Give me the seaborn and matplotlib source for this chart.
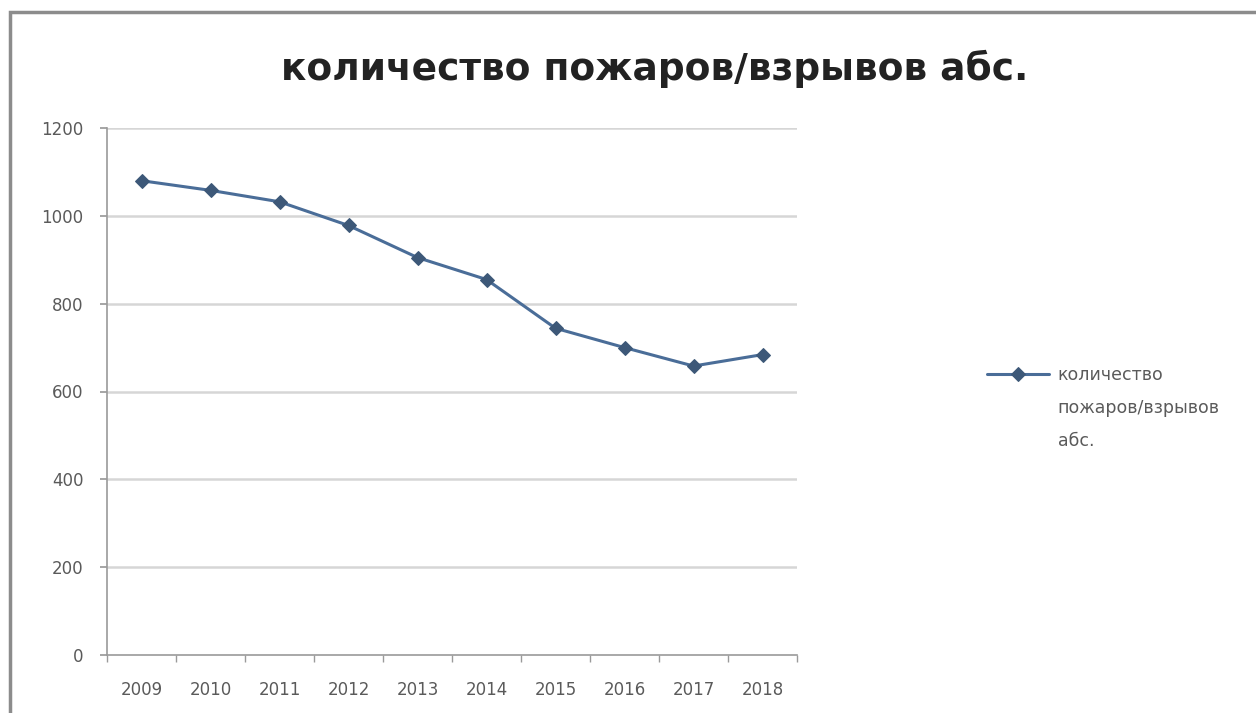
import matplotlib
matplotlib.use("Agg")
import matplotlib.pyplot as plt
import seaborn as sns
import pandas as pd
from matplotlib.patches import Rectangle

# Annual counts of fires/explosions (absolute numbers)
years = ["2009", "2010", "2011", "2012", "2013", "2014", "2015", "2016", "2017", "2018"]
counts = [1080, 1058, 1032, 978, 905, 855, 744, 700, 658, 684]
y_ticks = [0, 200, 400, 600, 800, 1000, 1200]
series_lines = ["количество", "пожаров/взрывов", "абс."]
title_text = "количество пожаров/взрывов абс."

df = pd.DataFrame({"год": years, "значение": counts, "ряд": " ".join(series_lines)})

sns.set_theme(style="white")
plt.rcParams["font.family"] = ["DejaVu Sans"]

W, H = 1256, 713
fig = plt.figure(figsize=(W / 100, H / 100), dpi=100)
ax = fig.add_axes([107 / W, 1 - 655 / H, 690 / W, (655 - 128) / H])

line_color = "#4a6d98"
sns.lineplot(data=df, x="год", y="значение", hue="ряд", palette=[line_color],
             marker="D", markersize=7, markerfacecolor="#3d5878",
             markeredgecolor="#3d5878", linewidth=2.2, ax=ax, sort=False)

ax.set_xlim(-0.5, len(years) - 0.5)
ax.set_ylim(0, 1200)
ax.set_yticks(y_ticks)
ax.set_yticklabels([str(v) for v in y_ticks])
ax.set_xlabel("")
ax.set_ylabel("")

# Horizontal gridlines
for v in y_ticks[1:]:
    ax.axhline(v, color="#d6d6d6", linewidth=1.8, zorder=0)

for s in ["top", "right"]:
    ax.spines[s].set_visible(False)
for s in ["left", "bottom"]:
    ax.spines[s].set_color("#9a9a9a")
    ax.spines[s].set_linewidth(1.2)

tick_color = "#5a5a5a"
ax.tick_params(axis="y", which="major", left=True, length=5, color="#9a9a9a",
               labelsize=12, labelcolor=tick_color, pad=12)
ax.tick_params(axis="x", which="major", bottom=False, labelsize=12,
               labelcolor=tick_color, pad=13)
# Category axis: tick marks sit between categories
ax.set_xticks([i - 0.5 for i in range(len(years) + 1)], minor=True)
ax.tick_params(axis="x", which="minor", bottom=True, length=5, color="#9a9a9a")

# Legend: handle beside the first line of the series name, the rest wraps below
ax.get_legend().remove()
handles, _ = ax.get_legend_handles_labels()
leg = fig.legend(handles, [series_lines[0]], loc="center left",
                 bbox_to_anchor=(978 / W, 1 - 375 / H),
                 frameon=False, fontsize=12.5, handlelength=3.6,
                 handletextpad=0.5, borderpad=0, labelcolor=tick_color)
fig.canvas.draw()
renderer = fig.canvas.get_renderer()
bb = leg.get_texts()[0].get_window_extent(renderer)
x_text = bb.x0 / W
for i, txt in enumerate(series_lines[1:], start=1):
    fig.text(x_text, 1 - (375 + 33 * i) / H, txt, ha="left", va="center",
             fontsize=12.5, color=tick_color)

fig.text(655 / W, 1 - 69 / H, title_text, ha="center", va="center",
         fontsize=27, fontweight="bold", color="#222222")

# Outer chart frame
fig.patches.append(Rectangle((10 / W, -0.05), 1.2, 1 - 12 / H + 0.05,
                             transform=fig.transFigure, fill=False,
                             edgecolor="#8c8c8c", linewidth=2.5))

fig.savefig("out.png", dpi=100, facecolor="white")
